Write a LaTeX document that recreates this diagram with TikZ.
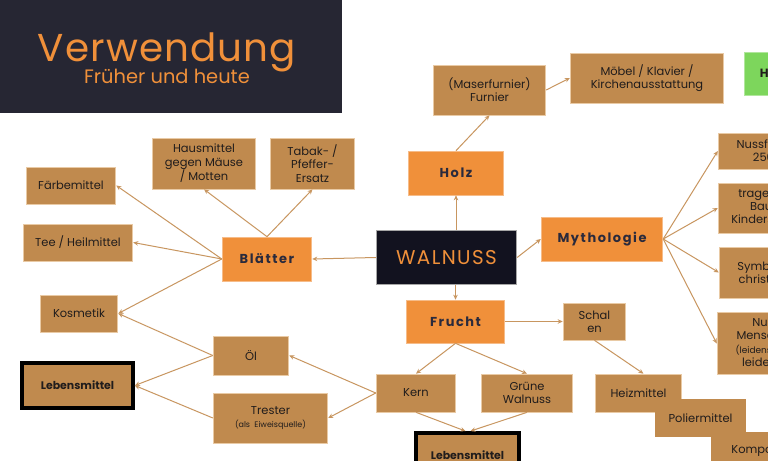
\documentclass[tikz,border=0pt]{standalone}
\usepackage{fontspec}
\setmainfont{Poppins}
\newfontfamily\titelfont[LetterSpace=3]{Poppins}
\newfontfamily\kopffont[LetterSpace=12]{Poppins}
\newfontfamily\nussfont[LetterSpace=7]{Poppins}
\usetikzlibrary{arrows.meta}
\definecolor{nachtblau}{RGB}{38,38,51}
\definecolor{schwarzblau}{RGB}{18,18,31}
\definecolor{kernbraun}{RGB}{192,138,78}
\definecolor{randbraun}{RGB}{233,202,165}
\definecolor{pfeilbraun}{RGB}{200,150,96}
\definecolor{ocker}{RGB}{240,144,58}
\definecolor{gruenfeld}{RGB}{125,214,92}
\definecolor{schrift}{RGB}{32,28,28}
\definecolor{schriftblau}{RGB}{42,42,60}

\tikzset{
  feld/.style={draw=randbraun, line width=0.8bp, fill=kernbraun, text=schrift,
    align=center, inner sep=0pt, font=\fontsize{11.5}{13.3}\selectfont},
  haupt/.style={draw=ocker!60!white, line width=0.8bp, fill=ocker, text=schriftblau,
    inner sep=0pt, font=\kopffont\bfseries\fontsize{13}{15}\selectfont},
  essen/.style={feld, draw=black, line width=3.5bp, font=\bfseries\fontsize{11}{13}\selectfont},
  pfeil/.style={draw=pfeilbraun, line width=1bp, -{Stealth[length=5bp,width=4.5bp]}},
}

\begin{document}
\begin{tikzpicture}[x=1bp,y=-1bp]
\useasboundingbox (0,0) rectangle (768,461);
\clip (0,0) rectangle (768,461);
\fill[white] (0,0) rectangle (768,461);

% Titel
\fill[nachtblau] (0,0) rectangle (342,113);
\node[anchor=base, text=ocker, font=\titelfont\fontsize{39}{44}\selectfont] (titel) at (167,62) {Verwendung};
\node[anchor=base, text=ocker, font=\fontsize{19.5}{22}\selectfont] (untertitel) at (167,84) {Früher und heute};

% Mitte
\node[draw=gray!70, line width=0.8bp, fill=schwarzblau, text=ocker, inner sep=0pt,
  minimum width=141, minimum height=55, font=\nussfont\fontsize{20}{24}\selectfont] (walnuss) at (446.5,257.5) {WALNUSS};
\node[haupt, minimum width=96, minimum height=44] (holz) at (456,173) {Holz};
\node[haupt, minimum width=90, minimum height=44] (blaetter) at (267,259) {Blätter};
\node[haupt, minimum width=122, minimum height=44] (mytho) at (602,239) {Mythologie};
\node[haupt, minimum width=99, minimum height=43] (frucht) at (455.5,321.5) {Frucht};

% Holz
\node[feld, minimum width=113, minimum height=50] (furnier) at (489.5,90) {(Maserfurnier)\\Furnier};
\node[feld, minimum width=154, minimum height=50] (moebel) at (647,78) {Möbel / Klavier /\\Kirchenausstattung};
\node[draw=gruenfeld!60!white, fill=gruenfeld, text=schrift, inner sep=0pt, minimum width=68, minimum height=43,
  font=\bfseries\fontsize{12}{14}\selectfont] (heute) at (778,73.5) {Heute};

% Mythologie
\node[feld, minimum width=98, minimum height=36] (fund) at (767,151) {Nussfunde\\2500};
\node[feld, minimum width=98, minimum height=50] (baum) at (767,208) {tragender\\Baum\\Kindersegen};
\node[feld, minimum width=98, minimum height=51] (symbol) at (768,272.5) {Symbol für\\christliche};
\node[feld, minimum width=98, minimum height=63] (mensch) at (766,343.5) {Nuss\\Menschen\\\fontsize{9}{11}\selectfont (leidensfähig,\\leidend)};

% Blaetter
\node[feld, minimum width=90, minimum height=37] (faerbe) at (71,185.5) {Färbemittel};
\node[feld, minimum width=104, minimum height=51] (haus) at (204,163.5) {Hausmittel\\gegen Mäuse\\/ Motten};
\node[feld, minimum width=85, minimum height=51] (tabak) at (312.5,163.5) {Tabak- /\\Pfeffer-\\Ersatz};
\node[feld, minimum width=110, minimum height=37] (tee) at (78,242.5) {Tee / Heilmittel};
\node[feld, minimum width=78, minimum height=37] (kosmetik) at (79,313.5) {Kosmetik};

% Frucht
\node[feld, minimum width=76, minimum height=39] (oel) at (251,355.5) {Öl};
\node[essen, minimum width=111.5, minimum height=45.5] (lebenslinks) at (77.5,385.5) {Lebensmittel};
\node[feld, minimum width=115, minimum height=50] (tester) at (270.5,418) {Trester\\\fontsize{8}{10}\selectfont (als~ Eiweisquelle)};
\node[feld, minimum width=80, minimum height=38] (kern) at (416,393) {Kern};
\node[feld, minimum width=92, minimum height=38] (gruen) at (527,393) {Grüne\\Walnuss};
\node[feld, minimum width=63, minimum height=37] (schalen) at (594.5,321.5) {Schal\\en};
\node[essen, minimum width=103.5, minimum height=45.5] (lebensunten) at (467.5,455.5) {Lebensmittel};
% Treppe ohne innere Kanten
\node[feld, minimum width=87, minimum height=38] (heiz) at (638.5,393) {Heizmittel};
\node[feld, draw=none, minimum width=91, minimum height=38] (polier) at (700.5,418) {Poliermittel};
\node[feld, draw=none, minimum width=92, minimum height=38] (kompost) at (757,451) {Kompost};

% Pfeile
\draw[pfeil] (walnuss.west) -- (blaetter.east);
\draw[pfeil] (holz.south |- walnuss.north) -- (holz.south);
\draw[pfeil] (frucht.north |- walnuss.south) -- (frucht.north);
\draw[pfeil] (walnuss.east) -- (mytho.west);
\draw[pfeil] (holz.north) -- (furnier.south);
\draw[pfeil] (furnier.east) -- (moebel.west);

\draw[pfeil] (blaetter.west) -- (faerbe.east);
\draw[pfeil] (blaetter.west) -- (tee.east);
\draw[pfeil] (blaetter.west) -- (kosmetik.east);
\draw[pfeil] (blaetter.north) -- (haus.south);
\draw[pfeil] (blaetter.north) -- (tabak.south);

\draw[pfeil] (mytho.east) -- (fund.west);
\draw[pfeil] (mytho.east) -- (baum.west);
\draw[pfeil] (mytho.east) -- (symbol.west);
\draw[pfeil] (mytho.east) -- (mensch.west);

\draw[pfeil] (oel.west) -- (kosmetik.east);
\draw[pfeil] (oel.west) -- (lebenslinks.east);
\draw[pfeil] (tester.west) -- (lebenslinks.east);
\draw[pfeil] (kern.west) -- (oel.east);
\draw[pfeil] (kern.west) -- (tester.east);
\draw[pfeil] (frucht.south) -- (kern.north);
\draw[pfeil] (frucht.south) -- (gruen.north);
\draw[pfeil] (frucht.east) -- (schalen.west);
\draw[pfeil] (schalen.south) -- ([xshift=5]heiz.north);
\draw[pfeil] (kern.south) -- ([xshift=-2]lebensunten.north);
\draw[pfeil] (gruen.south) -- ([xshift=3]lebensunten.north);

\end{tikzpicture}
\end{document}
